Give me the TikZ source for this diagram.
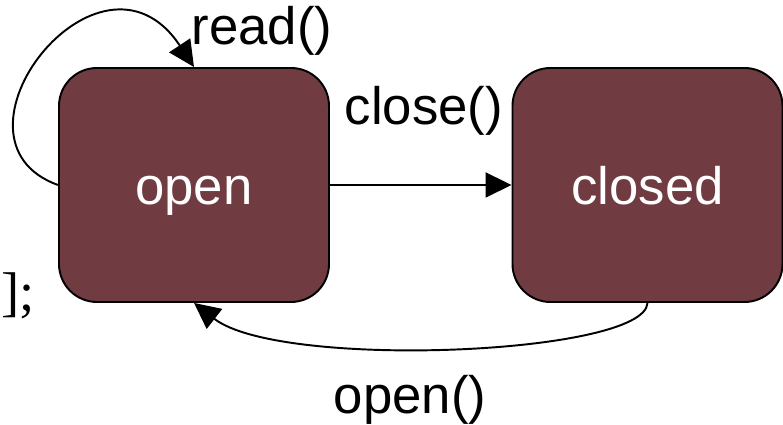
\documentclass[tikz,border=0pt]{standalone}
\usepackage{fontspec}
\setmainfont{Liberation Sans}
\newfontfamily\serifont{Liberation Serif}
\usetikzlibrary{arrows.meta}
\definecolor{statered}{RGB}{113,59,66}

\begin{document}
\begin{tikzpicture}[>={Triangle[length=0.52cm,width=0.5cm]}, line width=1.1pt,
	font=\fontsize{30}{36}\selectfont,
	state/.style={draw, fill=statered, text=white, rounded corners=0.76cm,
		minimum width=5.4cm, minimum height=4.68cm, text height=1.05cm, text depth=0.25cm}]
	\useasboundingbox (0,0) rectangle (15.66,8.5);
	% the two states
	\node[state] (open) at (3.88,4.8) {open};
	\node[state] (closed) at (12.95,4.8) {closed};
	% transitions
	\draw[->] (open.east) -- (closed.west);
	\draw[->] (open.west) .. controls (-1.35,5.7) and (2.0,10.0) .. (open.north);
	\draw[->] (closed.south) .. controls (12.9,1.4) and (5.6,1.1) .. (open.south);
	\node[anchor=base] (lclose) at (8.48,6.0) {close()};
	\node[anchor=base] (lread) at (5.24,7.6) {read()};
	\node[anchor=base] (lopen) at (8.2,0.22) {open()};
	\node[anchor=base east, inner sep=0pt, font=\serifont\fontsize{31}{36}\selectfont] (semi) at (0.72,2.28) {];};
\end{tikzpicture}
\end{document}
